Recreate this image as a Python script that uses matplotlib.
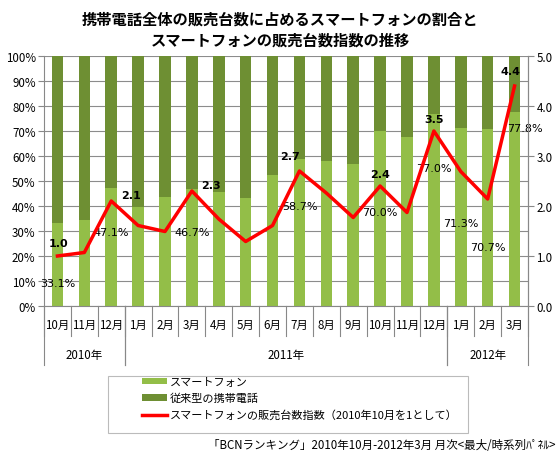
import matplotlib
matplotlib.use('Agg')
import matplotlib.pyplot as plt
from matplotlib.patches import Patch, Rectangle
from matplotlib.lines import Line2D
import numpy as np

plt.rcParams['font.family'] = ['Noto Sans CJK JP', 'DejaVu Sans']

months = ['10月', '11月', '12月', '1月', '2月', '3月', '4月', '5月', '6月',
          '7月', '8月', '9月', '10月', '11月', '12月', '1月', '2月', '3月']
years = ['2010年', '2011年', '2012年']
year_spans = [(0, 3), (3, 15), (15, 18)]

# smartphone share of all handset sales (%)
smart_share = [33.1, 34.4, 47.1, 39.7, 43.7, 46.7, 45.7, 43.2, 52.4,
               58.7, 58.0, 56.8, 70.0, 67.6, 77.0, 71.3, 70.7, 77.8]
# smartphone sales index (Oct 2010 = 1)
smart_index = [1.0, 1.07, 2.1, 1.61, 1.49, 2.3, 1.74, 1.29, 1.61,
               2.7, 2.26, 1.77, 2.4, 1.87, 3.5, 2.69, 2.14, 4.4]

share_labels = {0: '33.1%', 2: '47.1%', 5: '46.7%', 9: '58.7%', 12: '70.0%',
                14: '77.0%', 15: '71.3%', 16: '70.7%', 17: '77.8%'}
index_labels = {0: '1.0', 2: '2.1', 5: '2.3', 9: '2.7', 12: '2.4', 14: '3.5', 17: '4.4'}

# label placement (layout only)
share_label_y = {0: 9.2, 2: 29.7, 5: 29.7, 9: 40.1, 12: 37.6, 14: 55.2, 15: 33.2, 16: 23.6, 17: 71.2}
share_label_dx = {17: 0.4}
index_label_off = {0: (1, 6), 2: (14, 1), 5: (14, 1), 9: (-7, 7), 12: (0, 5), 14: (0, 5), 17: (-3, 7)}

light = '#93BE48'
dark = '#6E8F33'
red = '#FF0000'

fig = plt.figure(figsize=(5.6, 4.6), dpi=100)
ax = fig.add_axes([44 / 560, 1 - 307 / 460, 484 / 560, 250 / 460])

x = np.arange(len(months))
share = np.array(smart_share)
other = 100 - share
ax.bar(x, share, width=0.43, color=light, zorder=2)
ax.bar(x, other, width=0.43, bottom=share, color=dark, zorder=2)

ax.set_xlim(-0.5, len(months) - 0.5)
ax.set_ylim(0, 100)
ax.set_yticks(np.arange(0, 101, 10))
ax.set_yticklabels([f'{v}%' for v in range(0, 101, 10)], fontsize=8.3)
ax.yaxis.grid(True, color='#8C8C8C', linewidth=0.8, zorder=0)
ax.set_axisbelow(True)
ax.set_xticks([])
ax.spines['top'].set_visible(False)
for s in ['left', 'right', 'bottom']:
    ax.spines[s].set_color('#888888')
ax.tick_params(axis='y', length=4, color='#888888', pad=2)

for i, lab in share_labels.items():
    ax.text(i + share_label_dx.get(i, 0), share_label_y[i], lab, ha='center', va='center',
            fontsize=8, family=['DejaVu Sans'], zorder=5)

ax2 = ax.twinx()
ax2.set_ylim(0, 5)
ax2.set_yticks(np.arange(0, 5.01, 1.0))
ax2.set_yticklabels([f'{v:.1f}' for v in np.arange(0, 5.01, 1.0)], fontsize=8.3)
ax2.tick_params(axis='y', length=4, color='#888888', pad=2)
for s in ['top', 'left', 'bottom']:
    ax2.spines[s].set_visible(False)
ax2.spines['right'].set_color('#888888')
ax2.plot(x, smart_index, color=red, linewidth=2.5, zorder=4)
for i, lab in index_labels.items():
    ax2.annotate(lab, (x[i], smart_index[i]), xytext=index_label_off[i], textcoords='offset points',
                 ha='center', va='bottom', fontsize=8, fontweight='bold', family=['DejaVu Sans'])

# month / year category axis
tr = ax.get_xaxis_transform()
for i, m in enumerate(months):
    ax.text(i, -0.075, m, transform=tr, ha='center', va='center', fontsize=8.3)
for i in range(len(months) + 1):
    ax.plot([i - 0.5, i - 0.5], [0, -0.12], transform=tr, color='#888888', linewidth=0.8, clip_on=False)
for (a, b), yl in zip(year_spans, years):
    ax.text((a + b - 1) / 2, -0.195, yl, transform=tr, ha='center', va='center', fontsize=8.3)
    for e in (a, b):
        ax.plot([e - 0.5, e - 0.5], [0, -0.236], transform=tr, color='#888888', linewidth=0.8, clip_on=False)

fig.text(0.5, 1 - 20 / 460, '携帯電話全体の販売台数に占めるスマートフォンの割合と', ha='center', va='center',
         fontsize=11, fontweight='bold')
fig.text(0.5, 1 - 41 / 460, 'スマートフォンの販売台数指数の推移', ha='center', va='center',
         fontsize=11, fontweight='bold')

# legend
fig.patches.append(Rectangle((107.5 / 560, 1 - 434 / 460), 360 / 560, 57 / 460, transform=fig.transFigure,
                             facecolor='none', edgecolor='#BBBBBB', linewidth=0.8))
handles = [Patch(facecolor=light), Patch(facecolor=dark), Line2D([], [], color=red, linewidth=2.5)]
labels = ['スマートフォン', '従来型の携帯電話', 'スマートフォンの販売台数指数（2010年10月を1として）']
fig.legend(handles, labels, loc='upper left', bbox_to_anchor=(134 / 560, 1 - 370 / 460), frameon=False,
           fontsize=8, handlelength=2.3, handleheight=0.55, handletextpad=0.2, labelspacing=0.55,
           borderpad=0.2)

fig.text(555 / 560, 1 - 446 / 460, '「BCNランキング」2010年10月-2012年3月 月次<最大/時系列ﾊﾟﾈﾙ>',
         ha='right', va='center', fontsize=8.3)

fig.savefig('out.png', dpi=100, facecolor='white')
